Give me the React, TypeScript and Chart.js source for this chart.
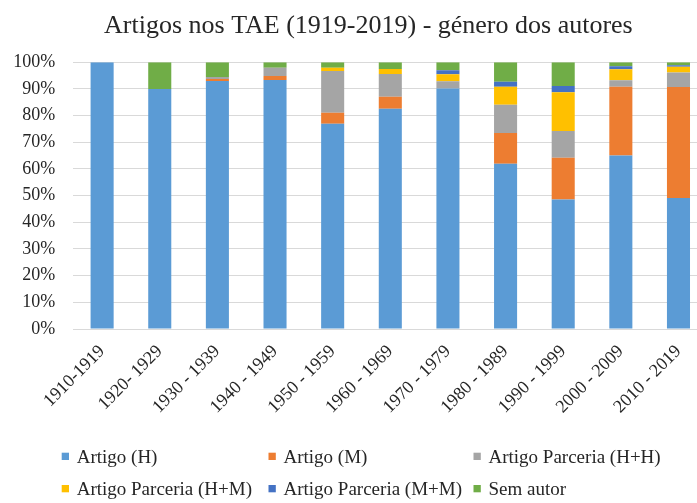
import React, { useEffect, useRef } from "react";
import { Chart, registerables } from "chart.js";

Chart.register(...registerables);

const categories = [
  "1910-1919",
  "1920- 1929",
  "1930 - 1939",
  "1940 - 1949",
  "1950 - 1959",
  "1960 - 1969",
  "1970 - 1979",
  "1980 - 1989",
  "1990 - 1999",
  "2000 - 2009",
  "2010 - 2019",
];

const artigoH = [100, 90, 93, 93.4, 77, 82.6, 90.2, 62, 48.6, 65.1, 49.1];
const artigoM = [0, 0, 0.7, 1.5, 4.1, 4.5, 0, 11.5, 15.6, 25.7, 41.6];
const parceriaHH = [0, 0, 0.8, 3.1, 15.6, 8.5, 2.7, 10.6, 10, 2.5, 5.5];
const parceriaHM = [0, 0, 0, 0, 1.3, 1.9, 2.6, 6.7, 14.6, 4.1, 2.1];
const parceriaMM = [0, 0, 0, 0, 0, 0, 1.5, 1.9, 2.3, 1.1, 0.6];
const semAutor = [0, 10, 5.5, 2, 2, 2.5, 3, 7.3, 8.9, 1.5, 1.1];

const yTicks = [0, 10, 20, 30, 40, 50, 60, 70, 80, 90, 100];

const seriesLabels = [
  "Artigo (H)",
  "Artigo (M)",
  "Artigo Parceria (H+H)",
  "Artigo Parceria (H+M)",
  "Artigo Parceria (M+M)",
  "Sem autor",
];
const seriesColors = ["#5B9BD5", "#ED7D31", "#A5A5A5", "#FFC000", "#4472C4", "#70AD47"];
const titleText = "Artigos nos TAE (1919-2019) - género dos autores";

const FONT = "'Liberation Serif', 'Times New Roman', serif";
const TEXT_COLOR = "#262626";

const titlePlugin = {
  id: "customTitle",
  afterDraw(chart: any) {
    const ctx = chart.ctx;
    ctx.save();
    ctx.font = `26px ${FONT}`;
    ctx.fillStyle = TEXT_COLOR;
    ctx.textAlign = "center";
    ctx.textBaseline = "alphabetic";
    ctx.fillText(titleText, 368.4, 33.3);
    ctx.restore();
  },
};

const legendPlugin = {
  id: "gridLegend",
  afterDraw(chart: any) {
    const ctx = chart.ctx;
    const colX = [61.7, 268.5, 473.5];
    const rowY = [462.7, 495];
    ctx.save();
    ctx.font = `19px ${FONT}`;
    ctx.textBaseline = "alphabetic";
    ctx.textAlign = "left";
    chart.data.datasets.forEach((ds: any, i: number) => {
      const c = i % 3;
      const r = Math.floor(i / 3);
      const x = colX[c];
      const y = rowY[r];
      ctx.fillStyle = ds.backgroundColor;
      ctx.fillRect(x, y - 10, 7.3, 7.3);
      ctx.fillStyle = TEXT_COLOR;
      ctx.fillText(ds.label, x + 15, y);
    });
    ctx.restore();
  },
};

export default function App() {
  const canvasRef = useRef<HTMLCanvasElement | null>(null);

  useEffect(() => {
    if (!canvasRef.current) return;
    const values = [artigoH, artigoM, parceriaHH, parceriaHM, parceriaMM, semAutor];
    const chart = new Chart(canvasRef.current, {
      type: "bar",
      data: {
        labels: categories,
        datasets: values.map((v, i) => ({
          label: seriesLabels[i],
          data: v,
          backgroundColor: seriesColors[i],
          borderWidth: 0,
          categoryPercentage: 1,
          barPercentage: 0.4,
        })),
      },
      options: {
        responsive: false,
        animation: false,
        devicePixelRatio: 1,
        layout: { padding: { top: 62.3, right: 28.7, left: 0, bottom: 0 } },
        plugins: {
          legend: { display: false },
          title: { display: false },
          tooltip: { enabled: false },
        },
        scales: {
          x: {
            stacked: true,
            grid: { display: false },
            border: { display: false },
            ticks: {
              minRotation: 45,
              maxRotation: 45,
              autoSkip: false,
              color: TEXT_COLOR,
              font: { family: FONT, size: 18 },
              padding: 4,
            },
            afterFit(scale: any) {
              scale.height = 174;
            },
          },
          y: {
            stacked: true,
            min: 0,
            max: 100,
            afterBuildTicks(scale: any) {
              scale.ticks = yTicks.map((v) => ({ value: v }));
            },
            grid: { color: "#D9D9D9", lineWidth: 1, drawTicks: false },
            border: { display: false },
            ticks: {
              color: TEXT_COLOR,
              font: { family: FONT, size: 18 },
              padding: 18,
              callback: (v: any) => `${v}%`,
            },
            afterFit(scale: any) {
              scale.width = 73.3;
            },
          },
        },
      },
      plugins: [titlePlugin, legendPlugin],
    });
    return () => chart.destroy();
  }, []);

  return (
    <div
      style={{
        position: "absolute",
        left: 0,
        top: 0,
        width: 697,
        height: 503,
        overflow: "hidden",
        background: "#fff",
      }}
    >
      <canvas ref={canvasRef} width={736} height={503} style={{ display: "block" }} />
    </div>
  );
}
